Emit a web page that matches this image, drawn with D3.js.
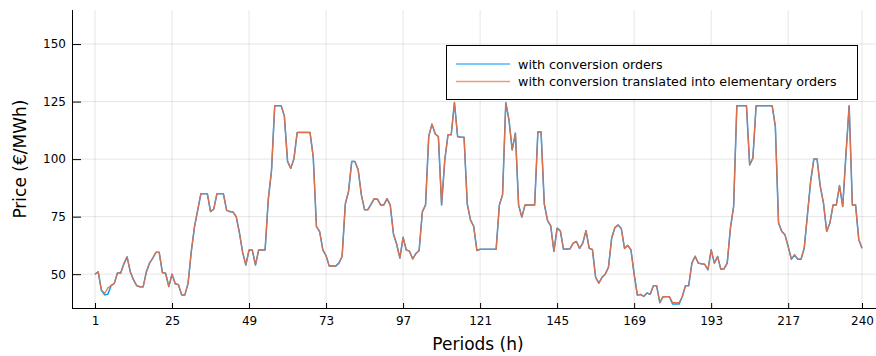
<!DOCTYPE html>
<html>
<head>
<meta charset="utf-8">
<script src="https://cdn.jsdelivr.net/npm/d3@7"></script>
<style>
  body { margin: 0; background: #fff; }
  svg { display: block; }
</style>
</head>
<body>
<svg id="chart"></svg>
<script>
// prices, one per hour (1..240)
var withConversion = [
  50, 51, 43, 41, 41.3, 45, 46, 50.5, 50.5, 54.5,
  57.5, 51, 47.5, 45, 44.5, 44.5, 51, 54.8, 57, 59.5,
  59.5, 50.7, 50.4, 44.6, 50, 45.8, 45.4, 41, 41, 46,
  59.8, 70.6, 77.8, 85, 85, 85, 77.2, 78.3, 85, 85,
  85, 77.8, 77.2, 77, 75, 68, 59.5, 54, 60.5, 60.5,
  54, 60.5, 60.5, 60.5, 82.5, 95, 123.2, 123.2, 123.2, 118.8,
  99, 96, 100.2, 111.6, 111.6, 111.6, 111.6, 111.6, 101, 70.7,
  68.5, 60.6, 58, 53.5, 53.5, 53.5, 54.8, 57.7, 80.5, 86,
  99, 99, 95.4, 84.5, 78, 78, 80.3, 82.8, 82.6, 80.1,
  80.1, 82.8, 80, 67.5, 63, 57, 66, 60.5, 60, 56.6,
  59, 60.3, 77, 80.1, 110, 115.2, 111, 109.7, 80.1, 99.7,
  110.6, 110.6, 124.6, 109.8, 109.5, 109.5, 80.5, 73.6, 70.8, 60.3,
  60.8, 60.8, 60.8, 60.8, 60.8, 60.8, 80, 84.5, 124.5, 117,
  104, 111.3, 80, 74.8, 80.1, 80.1, 80.1, 80.1, 111.8, 111.8,
  80.5, 73.4, 71, 59.9, 70, 68.8, 60.8, 60.9, 61, 63.5,
  64.2, 61.2, 63.5, 68.9, 61.2, 60.7, 48.6, 46.1, 48.6, 50,
  53, 65.7, 70.2, 71.4, 69.8, 61.2, 62.5, 60.6, 50, 40.9,
  41.2, 40.3, 41.8, 41.3, 45, 45, 37.6, 40.2, 40.2, 40.2,
  37, 37, 37, 40.3, 45, 45, 54.8, 57.8, 54.8, 54.5,
  54.3, 51.9, 60.6, 54.8, 57.7, 52.2, 52.3, 54.8, 70, 79.5,
  123.2, 123.2, 123.2, 123.2, 97.5, 100.4, 123.2, 123.2, 123.2, 123.2,
  123.2, 123.2, 114.2, 72.2, 68.6, 67.1, 62, 56.5, 58.4, 56.5,
  56.5, 61.3, 75.8, 90.3, 100, 100, 88.1, 80.9, 68.6, 72.2,
  80.1, 80.1, 88.5, 79.4, 102, 123.2, 80.1, 80.1, 65, 61.3
];
// same thing but with the conversion split into elementary orders
var withElementary = withConversion.slice();
withElementary[3] = 41.6;
withElementary[4] = 44;
withElementary[180] = 37.6;
withElementary[181] = 37.6;
withElementary[182] = 37.6;

var seriesNames = ["with conversion orders", "with conversion translated into elementary orders"];
var seriesColors = ["#009AFA", "#E36F47"];
var xTicks = [1, 25, 49, 73, 97, 121, 145, 169, 193, 217, 240];
var yTicks = [50, 75, 100, 125, 150];

function drawChart(){
    var w = 876, h = 356;
    var left = 72, top = 10, bottom = 308;

    var svg = d3.select("#chart")
        .attr("width", w)
        .attr("height", h)
        .style("font-family", "DejaVu Sans");

    var x = d3.scaleLinear().domain([1 - 7.17, 240 + 7.17]).range([left, 885]);
    var y = d3.scaleLinear().domain([35.3, 164.8]).range([bottom, top]);

    // grid
    svg.append("g").selectAll("line")
        .data(xTicks)
        .enter()
        .append("line")
        .attr("x1", d => x(d)).attr("x2", d => x(d))
        .attr("y1", top).attr("y2", bottom)
        .attr("stroke", "#000").attr("stroke-opacity", 0.1).attr("stroke-width", 1);

    svg.append("g").selectAll("line")
        .data(yTicks)
        .enter()
        .append("line")
        .attr("x1", left).attr("x2", w)
        .attr("y1", d => y(d)).attr("y2", d => y(d))
        .attr("stroke", "#000").attr("stroke-opacity", 0.1).attr("stroke-width", 1);

    // axes
    var xAxis = svg.append("g")
        .attr("transform", "translate(0," + bottom + ")")
        .call(d3.axisBottom(x).tickValues(xTicks).tickSizeInner(-5).tickSizeOuter(0).tickPadding(8));
    xAxis.select(".domain").attr("d", "M" + left + ",0.5H" + w);

    var yAxis = svg.append("g")
        .attr("transform", "translate(" + left + ",0)")
        .call(d3.axisLeft(y).tickValues(yTicks).tickSizeInner(-9).tickSizeOuter(0).tickPadding(6));
    yAxis.select(".domain").attr("d", "M0.5," + top + "V" + bottom);

    svg.selectAll(".tick text")
        .attr("font-family", "DejaVu Sans")
        .attr("font-size", "12px")
        .attr("fill", "#000");

    svg.append("text")
        .attr("x", 478)
        .attr("y", 350)
        .attr("text-anchor", "middle")
        .style("font-size", "17px")
        .text("Periods (h)");

    svg.append("text")
        .attr("transform", "translate(26," + y(100) + ") rotate(-90)")
        .attr("text-anchor", "middle")
        .style("font-size", "17px")
        .text("Price (€/MWh)");

    // lines
    var line = d3.line()
        .x((d, i) => x(i + 1))
        .y(d => y(d));

    svg.append("path")
        .datum(withConversion)
        .attr("d", line)
        .attr("fill", "none")
        .attr("stroke", seriesColors[0])
        .attr("stroke-width", 1.5)
        .attr("stroke-linejoin", "round");

    svg.append("path")
        .datum(withElementary)
        .attr("d", line)
        .attr("fill", "none")
        .attr("stroke", seriesColors[1])
        .attr("stroke-width", 1.2)
        .attr("stroke-linejoin", "round");

    // legend
    var legend = svg.append("g");
    legend.append("rect")
        .attr("x", 446.5).attr("y", 45.5)
        .attr("width", 411).attr("height", 54)
        .attr("fill", "#fff").attr("stroke", "#000").attr("stroke-width", 1);

    seriesNames.forEach(function(name, i){
        var ly = 64 + i * 17.5;
        legend.append("line")
            .attr("x1", 456).attr("x2", 510)
            .attr("y1", ly).attr("y2", ly)
            .attr("stroke", seriesColors[i])
            .attr("stroke-opacity", 0.7)
            .attr("stroke-width", 1.5);
        legend.append("text")
            .attr("x", 518)
            .attr("y", ly + 4.5)
            .style("font-size", "12.7px")
            .text(name);
    });
}

drawChart();
</script>
</body>
</html>
